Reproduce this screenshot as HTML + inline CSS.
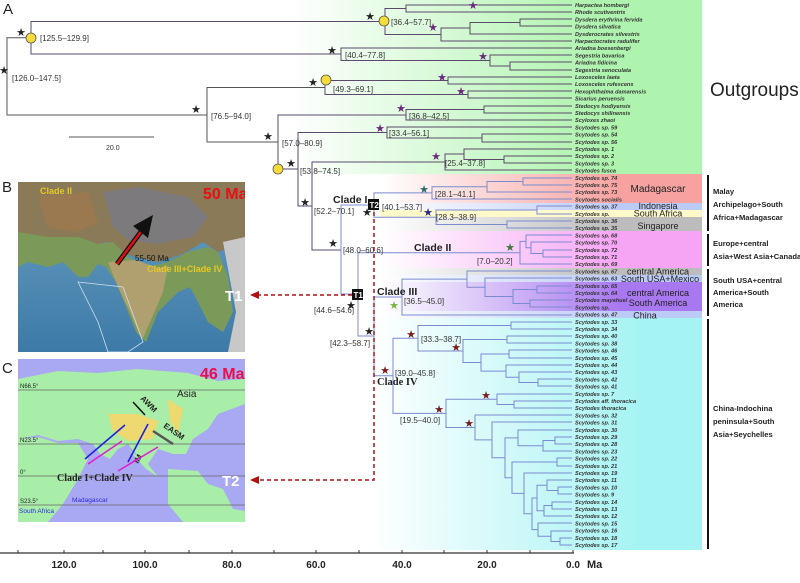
<!DOCTYPE html>
<html><head><meta charset="utf-8"><style>
html,body{margin:0;padding:0;background:#fff;}
svg{display:block;font-family:"Liberation Sans",sans-serif;}
.lf{font-size:5.6px;font-weight:bold;font-style:italic;fill:#333;}
.nl{font-size:8px;fill:#333;}
.st{font-size:11px;}
.rt{font-size:7.6px;font-weight:bold;fill:#222;}
</style></head><body>
<svg width="800" height="583" viewBox="0 0 800 583" xmlns="http://www.w3.org/2000/svg">
<defs>
<linearGradient id="gG" gradientUnits="userSpaceOnUse" x1="290" x2="600" y1="0" y2="0"><stop offset="0" stop-color="#fff"/><stop offset="1" stop-color="#aef3ae"/></linearGradient>
<linearGradient id="gM" gradientUnits="userSpaceOnUse" x1="380" x2="620" y1="0" y2="0"><stop offset="0" stop-color="#fff"/><stop offset="1" stop-color="#f7a2a0"/></linearGradient>
<linearGradient id="gP" gradientUnits="userSpaceOnUse" x1="380" x2="620" y1="0" y2="0"><stop offset="0" stop-color="#fff"/><stop offset="1" stop-color="#f6a4f4"/></linearGradient>
<linearGradient id="gV" gradientUnits="userSpaceOnUse" x1="380" x2="620" y1="0" y2="0"><stop offset="0" stop-color="#fff"/><stop offset="1" stop-color="#a878f0"/></linearGradient>
<linearGradient id="gC" gradientUnits="userSpaceOnUse" x1="370" x2="640" y1="0" y2="0"><stop offset="0" stop-color="#fff"/><stop offset="1" stop-color="#a6f3f3"/></linearGradient>
<linearGradient id="gS" gradientUnits="userSpaceOnUse" x1="380" x2="620" y1="0" y2="0"><stop offset="0" stop-color="#fff"/><stop offset="1" stop-color="#bcbcbc"/></linearGradient>
<linearGradient id="gB" gradientUnits="userSpaceOnUse" x1="380" x2="620" y1="0" y2="0"><stop offset="0" stop-color="#fff"/><stop offset="1" stop-color="#bccaf6"/></linearGradient>
<linearGradient id="sea" x1="0" y1="0" x2="0" y2="1"><stop offset="0" stop-color="#6aa0c0"/><stop offset="1" stop-color="#3d7aa8"/></linearGradient>
</defs>

<rect x="290" y="0" width="412" height="174" fill="url(#gG)"/>
<rect x="380" y="174" width="322" height="29" fill="url(#gM)"/>
<rect x="380" y="203" width="322" height="7" fill="url(#gB)"/>
<rect x="380" y="210" width="322" height="7" fill="#fdf8c4" opacity="0.9"/>
<rect x="380" y="217" width="322" height="14" fill="url(#gS)"/>
<rect x="380" y="231" width="322" height="37" fill="url(#gP)"/>
<rect x="380" y="268" width="322" height="7" fill="url(#gS)"/>
<rect x="380" y="275" width="322" height="7" fill="url(#gB)"/>
<rect x="380" y="282" width="322" height="29" fill="url(#gV)"/>
<rect x="380" y="311" width="322" height="7" fill="url(#gB)"/>
<rect x="370" y="318" width="332" height="232" fill="url(#gC)"/>

<g font-size="9" fill="#222" text-anchor="middle">
<text x="658" y="192" font-size="10">Madagascar</text>
<text x="658" y="209">Indonesia</text>
<text x="658" y="216.5">South Africa</text>
<text x="658" y="229">Singapore</text>
<text x="658" y="274.5">central America</text>
<text x="660" y="282">South USA+Mexico</text>
<text x="658" y="296">central America</text>
<text x="658" y="306">South America</text>
<text x="645" y="318.5">China</text>
</g>

<text x="710" y="96" font-size="19" fill="#222">Outgroups</text>
<g stroke="#111" stroke-width="2">
<line x1="708" y1="175" x2="708" y2="231"/>
<line x1="708" y1="234" x2="708" y2="266"/>
<line x1="708" y1="269" x2="708" y2="316"/>
<line x1="708" y1="319" x2="708" y2="549"/>
</g>
<text class="rt" x="713" y="194">Malay</text>
<text class="rt" x="713" y="207">Archipelago+South</text>
<text class="rt" x="713" y="220">Africa+Madagascar</text>
<text class="rt" x="713" y="246">Europe+central</text>
<text class="rt" x="713" y="259">Asia+West Asia+Canada</text>
<text class="rt" x="713" y="283">South USA+central</text>
<text class="rt" x="713" y="295">America+South</text>
<text class="rt" x="713" y="307">America</text>
<text class="rt" x="713" y="411">China-Indochina</text>
<text class="rt" x="713" y="424">peninsula+South</text>
<text class="rt" x="713" y="437">Asia+Seychelles</text>

<g fill="none" stroke="#555" stroke-width="1">
<path d="M31 37.75H7V115H207"/>
<path d="M325 87.5H207V142H278"/>
</g>
<g fill="none" stroke="#5b4a6b" stroke-width="1">
<path d="M572 5H406V12H572"/>
<path d="M572 19H520V26H572"/>
<path d="M520 22.5H470V34H572"/>
<path d="M470 28H441V41H572"/>
<path d="M406 8.5H385V34.5H441"/>
<path d="M572 62H510V70H572"/>
<path d="M572 55H490V66H510"/>
<path d="M572 48H341V60.5H490"/>
<path d="M385 21.5H31V54H341"/>
<path d="M572 77H448V84H572"/>
<path d="M572 91H468V98H572"/>
<path d="M448 80.5H325V94.5H468"/>
<path d="M572 106H484V113H572"/>
<path d="M484 109.5H406V120H572"/>
<path d="M572 134H482V142H572"/>
<path d="M572 127H387V138H482"/>
<path d="M572 156H504V163H572"/>
<path d="M572 149H464V159.5H504"/>
<path d="M464 154H445V170H572"/>
<path d="M406 115H278V169H298"/>
<path d="M387 132.5H298V206H312"/>
<path d="M445 162H312V250H341"/>
</g>
<g fill="none" stroke="#7b8bd0" stroke-width="1">
<path d="M374 205H341V294H358"/>
<path d="M572 178H523V185H572"/>
<path d="M523 181.5H487V192H572"/>
<path d="M487 186.75H432V199H572"/>
<path d="M572 206H537V214H572"/>
<path d="M572 221H507V228H572"/>
<path d="M537 210H436V224.5H507"/>
<path d="M432 192.9H374V217.25H436"/>
<path d="M572 250H543V257H572"/>
<path d="M572 242H531V253.5H543"/>
<path d="M572 235H526V247.75H531"/>
<path d="M526 241.4H520V264H572"/>
<path d="M520 252.7H358V336H374"/>
<path d="M402 297H374V375.8H393"/>
<path d="M572 286H537V293H572"/>
<path d="M572 300H530V307H572"/>
<path d="M537 289.5H513V303.5H530"/>
<path d="M572 278H485V296.5H513"/>
<path d="M572 271H467V287.25H485"/>
<path d="M467 279.1H402V315H572"/>
<path d="M572 322H511V329H572"/>
<path d="M572 336H507V343H572"/>
<path d="M572 350H509V358H572"/>
<path d="M572 379H538V386H572"/>
<path d="M572 372H519V382.5H538"/>
<path d="M572 365H506V377.25H519"/>
<path d="M509 354H481V371.1H506"/>
<path d="M507 339.5H463V362.5H481"/>
<path d="M511 325.5H418V351H463"/>
<path d="M572 401H514V408H572"/>
<path d="M572 394H497V404.5H514"/>
<path d="M572 437H555V444H572"/>
<path d="M555 440.5H543V451H572"/>
<path d="M572 430H518V445.75H543"/>
<path d="M572 458H557V466H572"/>
<path d="M572 487H558V494H572"/>
<path d="M572 480H547V490.5H558"/>
<path d="M572 502H552V509H572"/>
<path d="M552 505.5H544V516H572"/>
<path d="M547 485.25H537V510.75H544"/>
<path d="M572 538H560V545H572"/>
<path d="M572 531H551V541.5H560"/>
<path d="M572 523H538V536.25H551"/>
<path d="M537 498H532V529.6H538"/>
<path d="M572 473H524V513.8H532"/>
<path d="M557 462H512V493.4H524"/>
<path d="M518 437.9H505V477.7H512"/>
<path d="M572 422H492V457.8H505"/>
<path d="M572 415H475V439.9H492"/>
<path d="M497 399.25H446V427.5H475"/>
<path d="M418 338.25H393V413.4H446"/>
</g>

<g fill="#f5dc3a" stroke="#555" stroke-width="0.8">
<circle cx="31" cy="38" r="5"/><circle cx="384" cy="21" r="5"/><circle cx="326" cy="80" r="5"/><circle cx="278" cy="169" r="5"/>
</g>

<g class="lf">
<text x="575" y="7">Harpactea hombergi</text>
<text x="575" y="14.2">Rhode scutiventris</text>
<text x="575" y="21.4">Dysdera erythrina fervida</text>
<text x="575" y="28.6">Dysdera silvatica</text>
<text x="575" y="35.8">Dysderocrates silvestris</text>
<text x="575" y="43">Harpactocrates radulifer</text>
<text x="575" y="50.2">Ariadna boesenbergi</text>
<text x="575" y="57.4">Segestria bavarica</text>
<text x="575" y="64.6">Ariadna fidicina</text>
<text x="575" y="71.8">Segestria senoculata</text>
<text x="575" y="79">Loxosceles laeta</text>
<text x="575" y="86.2">Loxosceles rufescens</text>
<text x="575" y="93.4">Hexophthalma damarensis</text>
<text x="575" y="100.6">Sicarius peruensis</text>
<text x="575" y="107.8">Stedocys hodiyensis</text>
<text x="575" y="115">Stedocys shilinensis</text>
<text x="575" y="122.2">Scyloxes zhaoi</text>
<text x="575" y="129.4">Scytodes sp. 59</text>
<text x="575" y="136.6">Scytodes sp. 54</text>
<text x="575" y="143.8">Scytodes sp. 56</text>
<text x="575" y="151">Scytodes sp. 1</text>
<text x="575" y="158.2">Scytodes sp. 2</text>
<text x="575" y="165.4">Scytodes sp. 3</text>
<text x="575" y="172.6">Scytodes fusca</text>
<text x="575" y="179.8">Scytodes sp. 74</text>
<text x="575" y="187">Scytodes sp. 75</text>
<text x="575" y="194.2">Scytodes sp. 73</text>
<text x="575" y="201.4">Scytodes socialis</text>
<text x="575" y="208.6">Scytodes sp. 37</text>
<text x="575" y="215.8">Scytodes sp.</text>
<text x="575" y="223">Scytodes sp. 36</text>
<text x="575" y="230.2">Scytodes sp. 35</text>
<text x="575" y="237.4">Scytodes sp. 68</text>
<text x="575" y="244.6">Scytodes sp. 70</text>
<text x="575" y="251.8">Scytodes sp. 72</text>
<text x="575" y="259">Scytodes sp. 71</text>
<text x="575" y="266.2">Scytodes sp. 69</text>
<text x="575" y="273.4">Scytodes sp. 67</text>
<text x="575" y="280.6">Scytodes sp. 63</text>
<text x="575" y="287.8">Scytodes sp. 65</text>
<text x="575" y="295">Scytodes sp. 64</text>
<text x="575" y="302.2">Scytodes mayahuel</text>
<text x="575" y="309.4">Scytodes sp.</text>
<text x="575" y="316.6">Scytodes sp. 47</text>
<text x="575" y="323.8">Scytodes sp. 33</text>
<text x="575" y="331">Scytodes sp. 34</text>
<text x="575" y="338.2">Scytodes sp. 40</text>
<text x="575" y="345.4">Scytodes sp. 38</text>
<text x="575" y="352.6">Scytodes sp. 46</text>
<text x="575" y="359.8">Scytodes sp. 45</text>
<text x="575" y="367">Scytodes sp. 44</text>
<text x="575" y="374.2">Scytodes sp. 43</text>
<text x="575" y="381.4">Scytodes sp. 42</text>
<text x="575" y="388.6">Scytodes sp. 41</text>
<text x="575" y="395.8">Scytodes sp. 7</text>
<text x="575" y="403">Scytodes aff. thoracica</text>
<text x="575" y="410.2">Scytodes thoracica</text>
<text x="575" y="417.4">Scytodes sp. 32</text>
<text x="575" y="424.6">Scytodes sp. 31</text>
<text x="575" y="431.8">Scytodes sp. 30</text>
<text x="575" y="439">Scytodes sp. 29</text>
<text x="575" y="446.2">Scytodes sp. 28</text>
<text x="575" y="453.4">Scytodes sp. 23</text>
<text x="575" y="460.6">Scytodes sp. 22</text>
<text x="575" y="467.8">Scytodes sp. 21</text>
<text x="575" y="475">Scytodes sp. 19</text>
<text x="575" y="482.2">Scytodes sp. 11</text>
<text x="575" y="489.4">Scytodes sp. 10</text>
<text x="575" y="496.6">Scytodes sp. 9</text>
<text x="575" y="503.8">Scytodes sp. 14</text>
<text x="575" y="511">Scytodes sp. 13</text>
<text x="575" y="518.2">Scytodes sp. 12</text>
<text x="575" y="525.4">Scytodes sp. 15</text>
<text x="575" y="532.6">Scytodes sp. 16</text>
<text x="575" y="539.8">Scytodes sp. 18</text>
<text x="575" y="547">Scytodes sp. 17</text>
</g>

<g class="nl">
<text x="40" y="41">[125.5–129.9]</text>
<text x="12" y="81">[126.0–147.5]</text>
<text x="391" y="25">[36.4–57.7]</text>
<text x="345" y="58">[40.4–77.8]</text>
<text x="333" y="92">[49.3–69.1]</text>
<text x="211" y="119">[76.5–94.0]</text>
<text x="282" y="146">[57.0–80.9]</text>
<text x="300" y="174">[53.8–74.5]</text>
<text x="409" y="119">[36.8–42.5]</text>
<text x="389" y="136">[33.4–56.1]</text>
<text x="445" y="166">[25.4–37.8]</text>
<text x="314" y="214">[52.2–70.1]</text>
<text x="382" y="210">[40.1–53.7]</text>
<text x="435" y="197">[28.1–41.1]</text>
<text x="436" y="220">[28.3–38.9]</text>
<text x="343" y="253">[48.0–60.6]</text>
<text x="477" y="264">[7.0–20.2]</text>
<text x="314" y="313">[44.6–54.6]</text>
<text x="330" y="346">[42.3–58.7]</text>
<text x="404" y="304">[36.5–45.0]</text>
<text x="421" y="342">[33.3–38.7]</text>
<text x="395" y="376">[39.0–45.8]</text>
<text x="400" y="423">[19.5–40.0]</text>
</g>

<g class="st" text-anchor="middle">
<g fill="#222">
<text x="4" y="74">★</text><text x="21" y="36">★</text><text x="370" y="20">★</text><text x="332" y="54">★</text>
<text x="313" y="86">★</text><text x="196" y="113">★</text><text x="268" y="140">★</text><text x="291" y="167">★</text>
<text x="305" y="206">★</text><text x="367" y="216">★</text><text x="333" y="247">★</text><text x="351" y="309">★</text><text x="369" y="335">★</text>
</g>
<g fill="#6a2a7a">
<text x="473" y="9">★</text><text x="433" y="31">★</text><text x="483" y="60">★</text><text x="442" y="81">★</text>
<text x="461" y="95">★</text><text x="401" y="112">★</text><text x="380" y="132">★</text><text x="436" y="160">★</text>
</g>
<text x="424" y="193" fill="#2a6a6a">★</text>
<text x="428" y="216" fill="#2a2a8a">★</text>
<text x="510" y="251" fill="#3a7a3a">★</text>
<text x="394" y="309" fill="#7ab040">★</text>
<g fill="#7a1a1a">
<text x="385" y="374">★</text><text x="411" y="338">★</text><text x="456" y="351">★</text><text x="486" y="399">★</text><text x="439" y="413">★</text><text x="469" y="427">★</text>
</g>
</g>

<g font-weight="bold" font-size="10.5" fill="#222">
<text x="333" y="203">Clade I</text>
<text x="414" y="251">Clade II</text>
<text x="377" y="295">Clade III</text>
<text x="377" y="385" font-family="Liberation Serif,serif">Clade IV</text>
</g>

<g fill="none" stroke="#b01010" stroke-width="1.5" stroke-dasharray="4,3">
<path d="M374 205V480H258"/>
<path d="M352 295H258"/>
</g>
<polygon points="250,295 259,291 259,299" fill="#b01010"/>
<polygon points="250,480 259,476 259,484" fill="#b01010"/>
<rect x="368" y="199" width="11" height="11" fill="#111"/>
<text x="369.5" y="208" font-size="8" font-weight="bold" fill="#fff">T2</text>
<rect x="352" y="289" width="11" height="11" fill="#111"/>
<text x="353.5" y="298" font-size="8" font-weight="bold" fill="#fff">T1</text>

<line x1="69" y1="137" x2="154" y2="137" stroke="#555"/>
<text x="106" y="150" font-size="7" fill="#333">20.0</text>

<line x1="0" y1="553" x2="574" y2="553" stroke="#333" stroke-width="1.2"/>
<g stroke="#333">
<line x1="18" y1="550" x2="18" y2="553"/><line x1="64" y1="550" x2="64" y2="553"/><line x1="103" y1="550" x2="103" y2="553"/><line x1="145" y1="550" x2="145" y2="553"/><line x1="189" y1="550" x2="189" y2="553"/><line x1="232" y1="550" x2="232" y2="553"/><line x1="274" y1="550" x2="274" y2="553"/><line x1="316" y1="550" x2="316" y2="553"/><line x1="359" y1="550" x2="359" y2="553"/><line x1="402" y1="550" x2="402" y2="553"/><line x1="444" y1="550" x2="444" y2="553"/><line x1="487" y1="550" x2="487" y2="553"/><line x1="530" y1="550" x2="530" y2="553"/><line x1="573" y1="550" x2="573" y2="553"/>
</g>
<g font-size="10" font-weight="bold" fill="#222" text-anchor="middle">
<text x="64" y="568">120.0</text><text x="145" y="568">100.0</text><text x="232" y="568">80.0</text><text x="316" y="568">60.0</text><text x="402" y="568">40.0</text><text x="487" y="568">20.0</text><text x="573" y="568">0.0</text>
</g>
<text x="587" y="568" font-size="11" font-weight="bold" fill="#222">Ma</text>

<text x="3" y="14" font-size="15" fill="#222">A</text>
<text x="2" y="192" font-size="15" fill="#222">B</text>
<text x="2" y="373" font-size="15" fill="#222">C</text>

<svg x="18" y="182" width="227" height="170" viewBox="0 0 227 170">
<rect width="227" height="170" fill="url(#sea)"/>
<path d="M0 0H227V60L200 70 185 60 165 72 140 80 118 75 100 70 90 60 60 66 40 70 20 60 0 58Z" fill="#8a7a58"/>
<path d="M0 50 30 55 60 55 80 62 95 60 110 75 130 85 150 80 170 70 190 65 200 70 210 95 215 130 205 150 190 140 180 120 172 105 160 110 150 120 140 130 128 160 118 150 108 125 98 100 88 85 80 82 70 95 60 95 45 80 30 85 10 80 0 85Z" fill="#7b9a5a"/>
<path d="M90 80 118 78 140 86 150 84 145 110 132 140 124 158 112 130 100 105Z" fill="#b0a070"/>
<path d="M85 10 120 5 170 15 190 35 175 55 140 62 110 58 95 45Z" fill="#7c7a7c"/>
<path d="M20 15 70 10 80 40 60 50 30 45Z" fill="#9a7850"/>
<path d="M205 60 227 55 227 170 210 170 218 130Z" fill="#c8c8c8"/>
<path d="M60 100 105 105 125 160 110 170 90 170 80 140 70 120Z" fill="none" stroke="#cfe0ee" stroke-width="0.8"/>
<text x="22" y="12" font-size="9" font-weight="bold" fill="#e8c820">Clade II</text>
<text x="185" y="17" font-size="16" font-weight="bold" fill="#e81010">50 Ma</text>
<text x="117" y="79" font-size="8" fill="#111">55-50 Ma</text>
<text x="129" y="90" font-size="9" font-weight="bold" fill="#e8c820">Clade III+Clade IV</text>
<text x="207" y="119" font-size="15" font-weight="bold" fill="#fff">T1</text>
<line x1="99" y1="82" x2="128" y2="43" stroke="#111" stroke-width="5"/>
<line x1="99" y1="82" x2="128" y2="43" stroke="#e01010" stroke-width="2.5"/>
<polygon points="135,33 115,44 130,56" fill="#111"/>
</svg>

<svg x="18" y="359" width="227" height="163" viewBox="0 0 227 163">
<rect width="227" height="163" fill="#a9a8f2"/>
<path d="M0 20 40 12 80 14 120 10 170 14 200 22 227 20 227 45 200 55 190 70 175 80 168 95 155 95 140 90 130 105 122 100 110 85 100 90 92 100 82 95 75 85 60 80 40 82 20 76 0 80Z" fill="#a8eea8"/>
<path d="M0 80 20 78 40 84 60 84 70 100 60 120 45 145 30 163 0 163Z" fill="#a8eea8"/>
<path d="M150 110 180 112 190 125 205 130 215 150 227 152 227 163 165 163 150 145Z" fill="#a8eea8"/>
<path d="M110 90 130 105 140 118 128 110Z" fill="#a8eea8"/>
<path d="M90 55 120 55 140 62 135 80 110 82 95 72Z" fill="#eed870"/>
<path d="M150 40 165 50 160 75 152 62Z" fill="#eed870"/>
<g stroke="#666" stroke-width="0.7"><line x1="0" y1="31" x2="227" y2="31"/><line x1="0" y1="85" x2="227" y2="85"/><line x1="0" y1="117" x2="227" y2="117"/><line x1="0" y1="146" x2="227" y2="146"/></g>
<g font-size="6" fill="#222"><text x="2" y="29">N66.5°</text><text x="2" y="83">N23.5°</text><text x="2" y="115">0°</text><text x="2" y="144">S23.5°</text></g>
<text x="182" y="20" font-size="16" font-weight="bold" fill="#e81048">46 Ma</text>
<text x="159" y="38" font-size="10" fill="#222">Asia</text>
<line x1="115" y1="43" x2="127" y2="56" stroke="#111" stroke-width="1.5"/>
<text x="122" y="40" font-size="8" font-weight="bold" fill="#222" transform="rotate(45 122 40)">AWM</text>
<line x1="155" y1="85" x2="135" y2="72" stroke="#555" stroke-width="2.5"/>
<text x="145" y="68" font-size="8" font-weight="bold" fill="#222" transform="rotate(35 145 68)">EASM</text>
<text x="120" y="105" font-size="8" font-weight="bold" fill="#222" transform="rotate(-60 120 105)">IM</text>
<g stroke-width="1.6"><line x1="67" y1="100" x2="107" y2="66" stroke="#2020e0"/><line x1="110" y1="103" x2="130" y2="65" stroke="#2020e0"/>
<line x1="104" y1="82" x2="70" y2="105" stroke="#e020d0"/><line x1="140" y1="88" x2="100" y2="112" stroke="#e020d0"/></g>
<text x="39" y="122" font-size="10" font-weight="bold" font-family="Liberation Serif,serif" fill="#222">Clade I+Clade IV</text>
<text x="54" y="143" font-size="6.5" fill="#2a2ae0">Madagascar</text>
<text x="1" y="154" font-size="6.5" fill="#2a2ae0">South Africa</text>
<text x="204" y="127" font-size="15" font-weight="bold" fill="#fff">T2</text>
</svg>
</svg>
</body></html>
